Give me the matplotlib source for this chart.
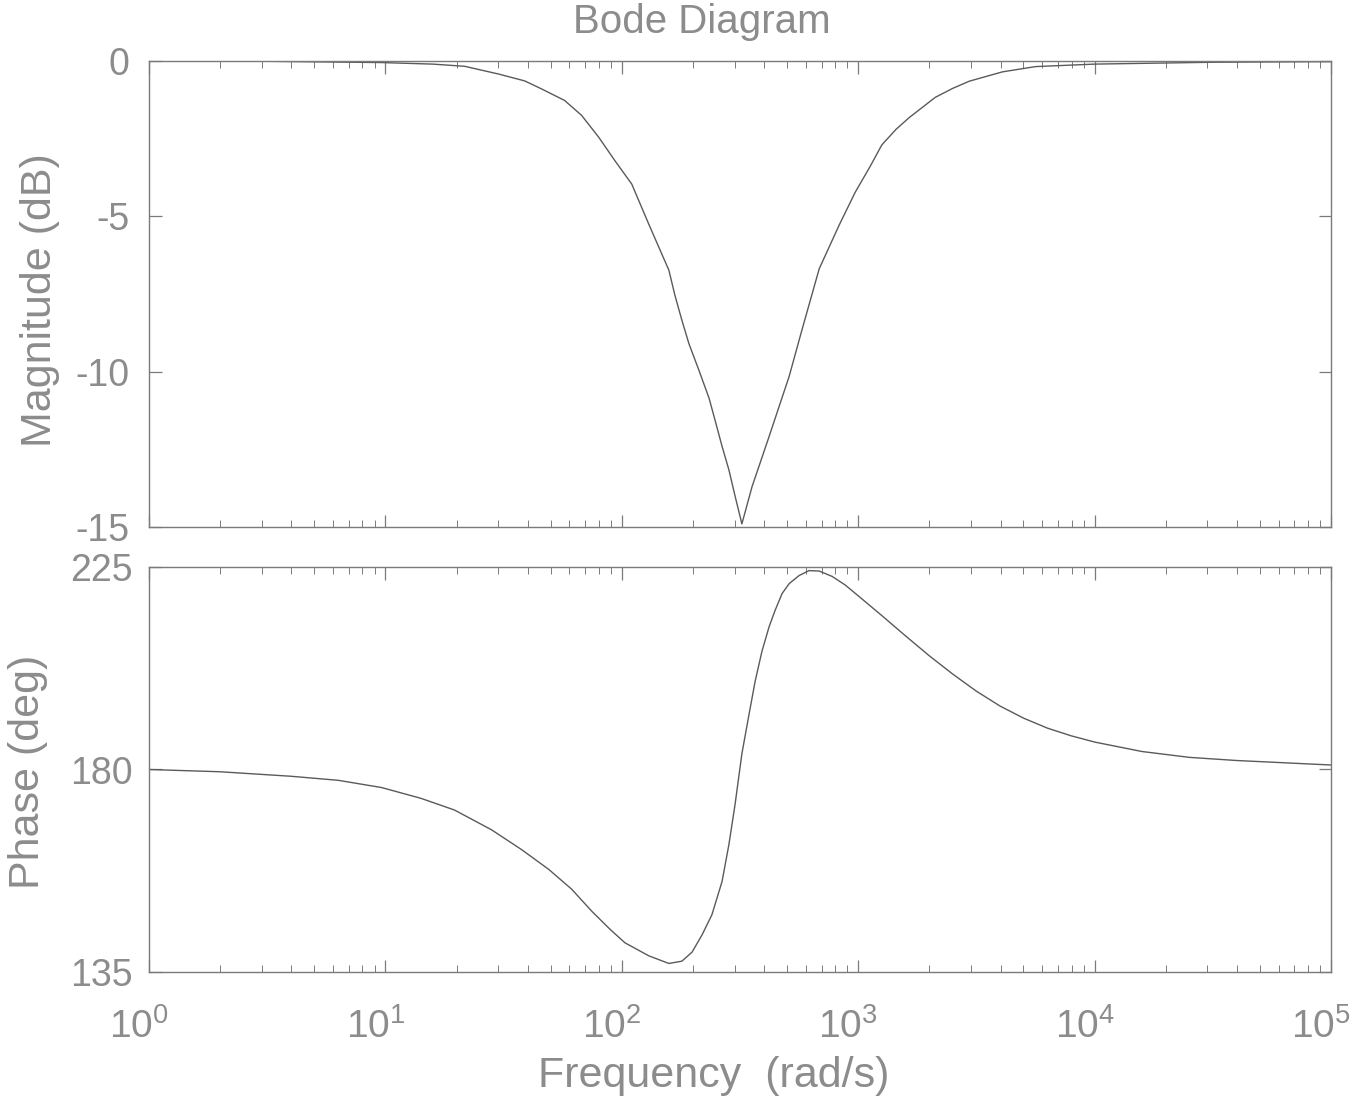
import numpy as np
import matplotlib
matplotlib.use("Agg")
import matplotlib.pyplot as plt
import matplotlib.transforms as mtransforms
from matplotlib.ticker import LogLocator, FixedLocator, NullFormatter

# ---- data (log10 of frequency in rad/s) ----
mag_logw = [0.0, 0.5, 0.983, 1.2, 1.335, 1.479, 1.589, 1.661, 1.758, 1.83,
            1.903, 1.97, 2.042, 2.114, 2.157, 2.199, 2.225, 2.254, 2.284,
            2.326, 2.369, 2.394, 2.424, 2.453, 2.479, 2.508, 2.551, 2.623,
            2.708, 2.763, 2.835, 2.919, 2.987, 3.05, 3.10, 3.16, 3.216, 3.326,
            3.40, 3.47, 3.61, 3.75, 4.0, 4.5, 5.0]
mag_db = [0.0, -0.01, -0.05, -0.10, -0.17, -0.42, -0.64, -0.90, -1.27, -1.75,
          -2.46, -3.20, -3.96, -5.25, -6.00, -6.73, -7.55, -8.34, -9.10,
          -9.95, -10.85, -11.55, -12.40, -13.16, -14.00, -14.9, -13.7, -12.09,
          -10.15, -8.63, -6.69, -5.29, -4.23, -3.40, -2.70, -2.20, -1.82, -1.17,
          -0.88, -0.65, -0.35, -0.18, -0.10, -0.04, -0.02]

ph_logw = [0.0, 0.3, 0.6, 0.8, 0.983, 1.15, 1.292, 1.449, 1.576, 1.691, 1.788,
           1.873, 1.95, 2.013, 2.114, 2.199, 2.254, 2.297, 2.339, 2.381, 2.424,
           2.453, 2.479, 2.508, 2.538, 2.564, 2.593, 2.623, 2.648, 2.678, 2.708,
           2.750, 2.792, 2.835, 2.890, 2.945, 3.0, 3.1, 3.2, 3.3, 3.4, 3.5, 3.6,
           3.7, 3.8, 3.9, 4.0, 4.2, 4.4, 4.6, 4.8, 5.0]
ph_deg = [180.0, 179.5, 178.5, 177.6, 176.0, 173.6, 171.0, 166.6, 162.2, 157.8,
          153.4, 148.5, 144.5, 141.5, 138.6, 136.9, 137.4, 139.4, 143.2, 147.7,
          155.1, 163.3, 172.2, 183.5, 192.2, 199.6, 206.3, 211.7, 215.3, 219.1,
          221.3, 223.1, 224.2, 224.1, 222.9, 221.0, 218.6, 214.2, 209.7, 205.3,
          201.2, 197.4, 194.1, 191.4, 189.2, 187.5, 186.1, 184.0, 182.7, 182.0,
          181.5, 181.0]

mag_ticks = [0, -5, -10, -15]
ph_ticks = [135, 180, 225]
x_ticks = [1e0, 1e1, 1e2, 1e3, 1e4, 1e5]
x_ticklabels = [r"$10^{0}$", r"$10^{1}$", r"$10^{2}$", r"$10^{3}$", r"$10^{4}$", r"$10^{5}$"]

title = "Bode Diagram"
xlabel = "Frequency  (rad/s)"
mag_label = "Magnitude (dB)"
ph_label = "Phase (deg)"

# ---- styling ----
plt.rcParams['font.family'] = ['Liberation Sans', 'DejaVu Sans']
plt.rcParams['mathtext.fontset'] = 'custom'
plt.rcParams['mathtext.rm'] = 'Liberation Sans'
plt.rcParams['mathtext.it'] = 'Liberation Sans'
txt_color = '#8c8c8c'
line_color = '#5a5a5a'
frame_color = '#7a7a7a'
fs_tick = 27
fs_lab = 31

fig = plt.figure(figsize=(13.56, 10.99), dpi=100)
W, H = 1356, 1099
left, right = 149, 1331
ax1 = fig.add_axes([left / W, 1 - 527 / H, (right - left) / W, (527 - 61) / H])
ax2 = fig.add_axes([left / W, 1 - 972 / H, (right - left) / W, (972 - 567) / H])

ax1.plot(np.power(10.0, mag_logw), mag_db, color=line_color, lw=1.0)
ax2.plot(np.power(10.0, ph_logw), ph_deg, color=line_color, lw=1.0)

for ax in (ax1, ax2):
    ax.set_xscale('log')
    ax.set_xlim(1, 1e5)
    ax.xaxis.set_major_locator(FixedLocator(x_ticks))
    ax.xaxis.set_minor_locator(LogLocator(base=10, subs=np.arange(2, 10), numticks=20))
    ax.xaxis.set_minor_formatter(NullFormatter())
    ax.tick_params(which='both', direction='in', top=True, right=True,
                   colors=frame_color, labelcolor=txt_color, labelsize=fs_tick)
    ax.tick_params(which='major', length=9, width=0.9)
    ax.tick_params(which='minor', length=5, width=0.7)
    for s in ax.spines.values():
        s.set_color(frame_color)
        s.set_linewidth(1.0)

ax1.set_ylim(-15, 0)
ax1.set_yticks(mag_ticks)
ax1.set_yticklabels([str(t) for t in mag_ticks])
ax1.tick_params(labelbottom=False)
ax1.tick_params(axis='y', pad=14)

ax2.set_ylim(135, 225)
ax2.set_yticks(ph_ticks)
ax2.set_yticklabels([str(t) for t in ph_ticks])
ax2.set_xticklabels(x_ticklabels)
ax2.tick_params(axis='x', pad=26, labelsize=28)
ax2.tick_params(axis='y', pad=12)
shift = mtransforms.ScaledTranslation(-10 / 100, 0, fig.dpi_scale_trans)
for lbl in ax2.get_xticklabels():
    lbl.set_transform(lbl.get_transform() + shift)

fig.text(702 / W, 1 - 22 / H, title, ha='center', va='center', fontsize=29, color=txt_color)
fig.text(714 / W, 1 - 1076 / H, xlabel, ha='center', va='center', fontsize=fs_lab, color=txt_color)
fig.text(40 / W, 1 - 300 / H, mag_label, ha='center', va='center', rotation=90, fontsize=fs_lab, color=txt_color)
fig.text(28 / W, 1 - 772 / H, ph_label, ha='center', va='center', rotation=90, fontsize=fs_lab, color=txt_color)

fig.savefig("out.png", dpi=100, facecolor='white')
